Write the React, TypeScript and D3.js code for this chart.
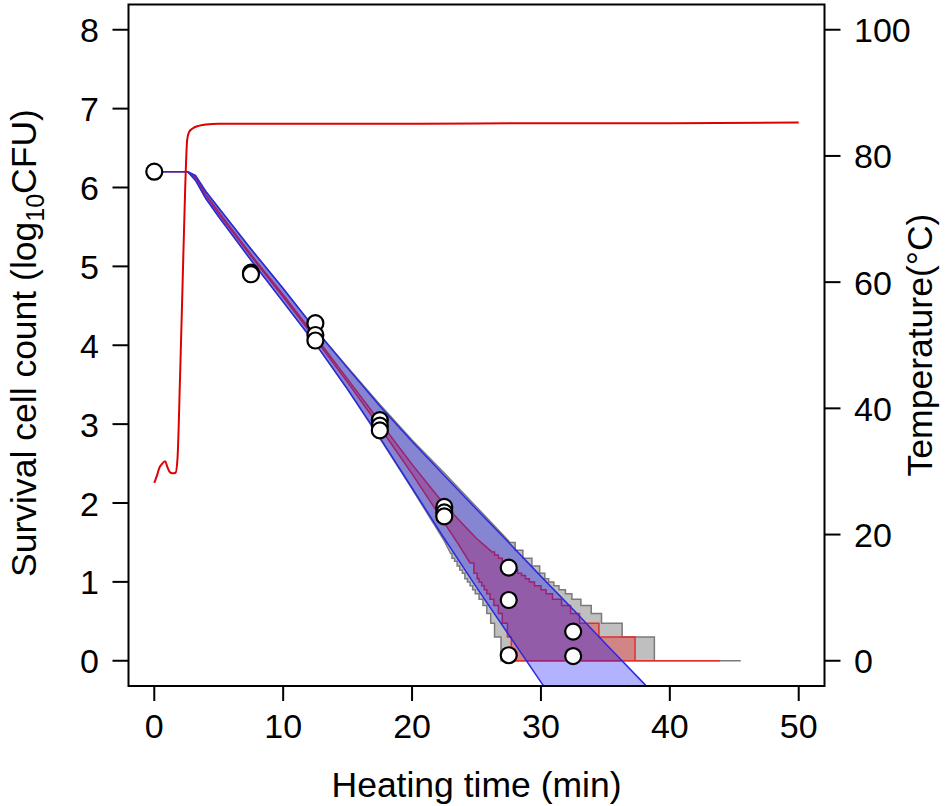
import React from "react";
import * as d3 from "d3";

// ---- Data ----
const xTicks = [0, 10, 20, 30, 40, 50];
const yTicks = [0, 1, 2, 3, 4, 5, 6, 7, 8];
const tempTicks = [0, 20, 40, 60, 80, 100];

// observed survivors (time, log10 CFU)
const obsT = [0, 7.5, 7.5, 12.5, 12.5, 12.5, 17.5, 17.5, 17.5, 22.5, 22.5, 22.5, 27.5, 27.5, 27.5, 32.5, 32.5];
const obsV = [6.2, 4.92, 4.9, 4.28, 4.13, 4.06, 3.05, 2.98, 2.92, 1.95, 1.88, 1.83, 1.18, 0.77, 0.07, 0.37, 0.06];

// temperature profile
const tempT = [0, 0.2, 0.4, 0.6, 0.85, 1.0, 1.2, 1.4, 1.65, 1.8, 2.0, 2.2, 2.4, 2.55, 2.7, 3.0, 3.5, 4.0, 5, 10, 20, 30, 40, 50];
const tempC = [28.2, 29.3, 30.6, 31.2, 31.6, 30.8, 29.9, 29.7, 29.8, 32, 45, 60, 75, 82.5, 83.8, 84.4, 84.8, 85.0, 85.1, 85.1, 85.1, 85.2, 85.2, 85.3];

// deterministic prediction band (blue)
const blueT = [0, 2.6, 3.2, 4, 5, 7.5, 10, 12.5, 15, 17.5, 20, 22.5, 25, 27.5, 30, 32.5, 35, 38, 40];
const blueLo = [6.2, 6.2, 6.09, 5.86, 5.63, 5.08, 4.55, 4.02, 3.44, 2.83, 2.19, 1.55, 0.93, 0.33, -0.27, -0.87, -1.47, -2.2, -2.7];
const blueHi = [6.2, 6.2, 6.15, 5.95, 5.74, 5.22, 4.72, 4.2, 3.71, 3.23, 2.78, 2.35, 1.92, 1.5, 1.07, 0.65, 0.22, -0.29, -0.63];

// stochastic band, gray (upper edge)
const grayUpT = [0, 2.6, 3.2, 4, 5, 7.5, 10, 12.5, 15, 17.5, 20, 22.5, 25, 27.6];
const grayUpV = [6.2, 6.2, 6.15, 5.95, 5.74, 5.22, 4.72, 4.2, 3.72, 3.25, 2.8, 2.38, 1.95, 1.5];
const grayUpDropT = [28.0, 28.6, 29.3, 29.9, 30.3, 30.6, 31.0, 31.4, 31.9, 32.4, 33.1, 33.9, 34.7, 36.3, 38.8];
const grayUpDropV = [1.4, 1.3, 1.2, 1.11, 1.04, 1.0, 0.95, 0.9, 0.85, 0.78, 0.7, 0.6, 0.477, 0.3, 0];
const grayEndT = 45.5;
// gray (lower edge)
const grayLoT = [0, 2.6, 3.2, 4, 5, 7.5, 10, 12.5, 15, 17.5, 20, 22.5, 23.0];
const grayLoV = [6.2, 6.2, 6.09, 5.86, 5.63, 5.08, 4.55, 4.02, 3.44, 2.82, 2.18, 1.52, 1.36];
const grayLoDropT = [23.1, 23.3, 23.5, 23.7, 23.9, 24.1, 24.3, 24.5, 24.7, 24.9, 25.2, 25.5, 25.8, 26.1, 26.4, 26.9];
const grayLoDropV = [1.3, 1.26, 1.2, 1.15, 1.11, 1.04, 1.0, 0.95, 0.9, 0.85, 0.78, 0.7, 0.6, 0.477, 0.3, 0];

// stochastic band, red (upper edge)
const redUpT = [0, 2.6, 3.2, 4, 5, 7.5, 10, 12.5, 15, 17.5, 20, 22.5, 25, 26.2];
const redUpV = [6.2, 6.2, 6.13, 5.91, 5.69, 5.15, 4.64, 4.11, 3.57, 3.03, 2.49, 1.98, 1.55, 1.38];
const redUpDropT = [26.4, 26.7, 27.0, 27.4, 27.8, 28.2, 28.5, 28.8, 29.1, 29.5, 30.0, 30.4, 30.9, 31.6, 32.3, 33.0, 34.5, 37.3];
const redUpDropV = [1.34, 1.3, 1.26, 1.2, 1.15, 1.11, 1.08, 1.04, 1.0, 0.95, 0.9, 0.85, 0.78, 0.7, 0.6, 0.477, 0.3, 0];
const redEndT = 43.9;
// red (lower edge)
const redLoT = [0, 2.6, 3.2, 4, 5, 7.5, 10, 12.5, 15, 17.5, 20, 22.5, 23.5, 24.5];
const redLoV = [6.2, 6.2, 6.12, 5.9, 5.67, 5.13, 4.61, 4.08, 3.53, 2.96, 2.37, 1.75, 1.5, 1.24];
const redLoDropT = [24.8, 25.05, 25.2, 25.4, 25.6, 25.8, 26.05, 26.35, 26.7, 27.0, 27.4, 27.7];
const redLoDropV = [1.11, 1.04, 1.0, 0.95, 0.9, 0.85, 0.78, 0.7, 0.6, 0.477, 0.3, 0];

// ---- Layout ----
const W = 950, H = 806;
const L = 128.5, R = 824.5, T = 4.5, B = 686;
const FONT = "'Liberation Sans', Arial, Helvetica, sans-serif";
const FS = 34;
const FT = 35.5;

type P = [number, number];

function zip(ts: number[], vs: number[]): P[] {
  return ts.map((t, i) => [t, vs[i]] as P);
}
function stepEdge(ts: number[], vs: number[], dropT: number[], dropV: number[], endT: number): P[] {
  const pts = zip(ts, vs);
  let prev = pts[pts.length - 1][1];
  dropT.forEach((t, i) => {
    pts.push([t, prev]);
    pts.push([t, dropV[i]]);
    prev = dropV[i];
  });
  pts.push([endT, prev]);
  return pts;
}

export default function App() {
  const x = d3.scaleLinear().domain([-2, 52]).range([L, R]);
  const y = d3.scaleLinear().domain([-0.32, 8.32]).range([B, T]);
  const yT = d3.scaleLinear().domain([-4, 104]).range([B, T]);

  const line = d3.line<P>().x((d) => x(d[0])).y((d) => y(d[1]));
  const poly = (up: P[], lo: P[]) => line(up.concat(lo.slice().reverse()))! + "Z";

  const grayUp = stepEdge(grayUpT, grayUpV, grayUpDropT, grayUpDropV, grayEndT);
  const grayLo = stepEdge(grayLoT, grayLoV, grayLoDropT, grayLoDropV, grayEndT);
  const redUp = stepEdge(redUpT, redUpV, redUpDropT, redUpDropV, redEndT);
  const redLo = stepEdge(redLoT, redLoV, redLoDropT, redLoDropV, redEndT);
  const blueUp = zip(blueT, blueHi);
  const blueLoP = zip(blueT, blueLo);

  const tempLine = d3
    .line<number>()
    .x((_, i) => x(tempT[i]))
    .y((d) => yT(d))
    .curve(d3.curveMonotoneX)(tempC)!;

  return (
    <svg width={W} height={H} style={{ position: "absolute", left: 0, top: 0, background: "#fff" }} fontFamily={FONT}>
      <defs>
        <clipPath id="plotClip">
          <rect x={L} y={T} width={R - L} height={B - T} />
        </clipPath>
      </defs>
      <g clipPath="url(#plotClip)">
        <path d={poly(grayUp, grayLo)} fill="rgba(128,128,128,0.5)" stroke="#7a7a7a" strokeWidth={1.5} />
        <path d={poly(redUp, redLo)} fill="rgba(255,0,0,0.3)" stroke="#e03030" strokeWidth={1.5} />
        <path d={poly(blueUp, blueLoP)} fill="rgba(0,0,255,0.3)" stroke="#2a2ae0" strokeWidth={1.5} />
        <path d={tempLine} fill="none" stroke="#e00000" strokeWidth={2} />
        {obsT.map((t, i) => (
          <circle key={i} cx={x(t)} cy={y(obsV[i])} r={8} fill="#fff" stroke="#000" strokeWidth={2.2} />
        ))}
      </g>
      <rect x={L} y={T} width={R - L} height={B - T} fill="none" stroke="#000" strokeWidth={2} />

      {/* bottom axis */}
      {xTicks.map((t) => (
        <g key={"x" + t}>
          <line x1={x(t)} x2={x(t)} y1={B} y2={B + 15} stroke="#000" strokeWidth={2} />
          <text x={x(t)} y={738} fontSize={FS} textAnchor="middle">{t}</text>
        </g>
      ))}
      {/* left axis */}
      {yTicks.map((v) => (
        <g key={"y" + v}>
          <line x1={L} x2={L - 16} y1={y(v)} y2={y(v)} stroke="#000" strokeWidth={2} />
          <text x={99} y={y(v) + 12.5} fontSize={FS} textAnchor="end">{v}</text>
        </g>
      ))}
      {/* right axis */}
      {tempTicks.map((c) => (
        <g key={"t" + c}>
          <line x1={R} x2={R + 16} y1={yT(c)} y2={yT(c)} stroke="#000" strokeWidth={2} />
          <text x={854} y={yT(c) + 12.5} fontSize={FS} textAnchor="start">{c}</text>
        </g>
      ))}

      <text x={(L + R) / 2} y={797} fontSize={FT} textAnchor="middle">Heating time (min)</text>
      <text transform={`translate(36,343) rotate(-90)`} fontSize={FT} textAnchor="middle">
        Survival cell count (log
        <tspan fontSize={25} dy={8}>10</tspan>
        <tspan dy={-8}>CFU)</tspan>
      </text>
      <text transform={`translate(932,345) rotate(-90)`} fontSize={FT} textAnchor="middle">
        Temperature(°C)
      </text>
    </svg>
  );
}
